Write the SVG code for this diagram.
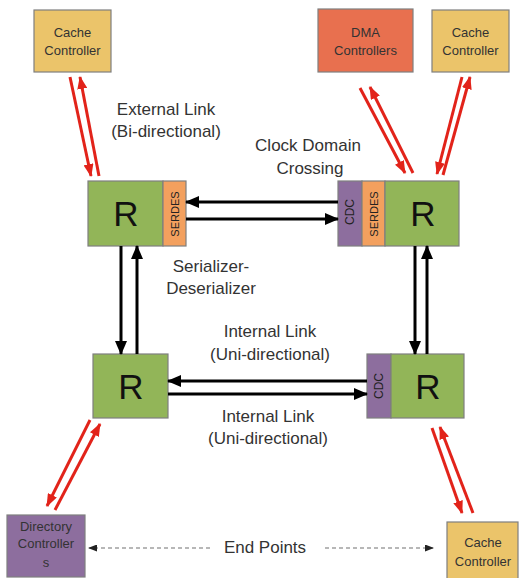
<svg xmlns="http://www.w3.org/2000/svg" width="521" height="578" viewBox="0 0 521 578">
<style>
.box{stroke:#7f7f7f;stroke-width:1.2}
.cache{fill:#EBC46A}
.dma{fill:#E8704F}
.dir{fill:#8D6E9E}
.rt{fill:#92B558}
.ser{fill:#F3A05E}
.cdc{fill:#8D6E9E}
.t{font-family:"Liberation Sans",Arial,sans-serif;fill:#333;text-anchor:middle}
.small{font-size:13px}
.lbl{font-size:17px}
.R{font-size:35px;fill:#111}
.vt{font-size:11px;fill:#222}
.blk{stroke:#000;stroke-width:3;fill:none;marker-end:url(#ah)}
.red{stroke:#E2231A;stroke-width:3;fill:none;marker-end:url(#rh)}
.dash{stroke:#a0a0a0;stroke-width:1.5;stroke-dasharray:4 3;fill:none;marker-end:url(#dh)}
</style>
<defs>
<marker id="ah" markerUnits="userSpaceOnUse" markerWidth="14" markerHeight="12" refX="13" refY="6" orient="auto"><path d="M0,0 L14,6 L0,12 z" fill="#000"/></marker>
<marker id="rh" markerUnits="userSpaceOnUse" markerWidth="13" markerHeight="10" refX="12" refY="5" orient="auto"><path d="M0,0 L13,5 L0,10 z" fill="#E2231A"/></marker>
<marker id="dh" markerUnits="userSpaceOnUse" markerWidth="9" markerHeight="7" refX="8" refY="3.5" orient="auto"><path d="M0,0 L9,3.5 L0,7 z" fill="#222"/></marker>
</defs>

<g id="cache-tl"><rect class="box cache" x="34" y="10" width="77" height="62"/><text class="t small" x="72.5" y="37">Cache</text><text class="t small" x="72.5" y="55">Controller</text></g>
<g id="dma"><rect class="box dma" x="318" y="9" width="95" height="63"/><text class="t small" x="365.5" y="37">DMA</text><text class="t small" x="365.5" y="55">Controllers</text></g>
<g id="cache-tr"><rect class="box cache" x="432" y="10" width="77" height="62"/><text class="t small" x="470.5" y="37">Cache</text><text class="t small" x="470.5" y="55">Controller</text></g>

<g id="router-tl"><rect class="box rt" x="88" y="181" width="75" height="65"/><rect class="box ser" x="163" y="181" width="23" height="65"/><text class="t R" x="126" y="226">R</text><text class="t vt" transform="translate(178.5,214) rotate(-90)">SERDES</text></g>
<g id="router-tr"><rect class="box cdc" x="338" y="181" width="24" height="65"/><rect class="box ser" x="362" y="181" width="23" height="65"/><rect class="box rt" x="385" y="181" width="74" height="65"/><text class="t vt" style="font-size:12px" transform="translate(354,212) rotate(-90)">CDC</text><text class="t vt" transform="translate(377.5,214) rotate(-90)">SERDES</text><text class="t R" x="423" y="226">R</text></g>
<g id="router-bl"><rect class="box rt" x="93" y="354" width="75" height="64"/><text class="t R" x="131" y="399">R</text></g>
<g id="router-br"><rect class="box cdc" x="367" y="354" width="24" height="64"/><rect class="box rt" x="391" y="354" width="73" height="64"/><text class="t vt" style="font-size:12px" transform="translate(383,386) rotate(-90)">CDC</text><text class="t R" x="428" y="399">R</text></g>

<g id="dir"><rect class="box dir" x="7" y="515" width="78" height="62"/><text class="t small" x="46" y="531">Directory</text><text class="t small" x="46" y="548">Controller</text><text class="t small" x="46" y="567">s</text></g>
<g id="cache-br"><rect class="box cache" x="447" y="522" width="71" height="58"/><text class="t small" x="483" y="547">Cache</text><text class="t small" x="483" y="566">Controller</text></g>

<g id="connectors">
<path class="blk" d="M338,202 L186,202"/>
<path class="blk" d="M186,219 L338,219"/>
<path class="blk" d="M121,246 L121,354"/>
<path class="blk" d="M137,354 L137,246"/>
<path class="blk" d="M415,246 L415,354"/>
<path class="blk" d="M427,354 L427,246"/>
<path class="blk" d="M367,381 L168,381"/>
<path class="blk" d="M168,394 L367,394"/>

<path class="red" d="M70,77 L91,176"/>
<path class="red" d="M99,176 L80,77"/>
<path class="red" d="M360,88 L405,173"/>
<path class="red" d="M413,173 L370,87"/>
<path class="red" d="M462,77 L437,174"/>
<path class="red" d="M443,175 L470,77"/>
<path class="red" d="M90,420 L47,506"/>
<path class="red" d="M55,510 L100,424"/>
<path class="red" d="M432,428 L462,513"/>
<path class="red" d="M473,513 L440,427"/>

<path class="dash" d="M210,548 L89,548"/>
<path class="dash" d="M325,548 L433,548"/>
</g>

<g id="labels">
<text class="t lbl" x="166" y="115">External Link</text>
<text class="t lbl" x="166" y="137">(Bi-directional)</text>
<text class="t lbl" x="308" y="151">Clock Domain</text>
<text class="t lbl" x="310" y="174">Crossing</text>
<text class="t lbl" x="211" y="272">Serializer-</text>
<text class="t lbl" x="211" y="294">Deserializer</text>
<text class="t lbl" x="270" y="337">Internal Link</text>
<text class="t lbl" x="270" y="360">(Uni-directional)</text>
<text class="t lbl" x="268" y="422">Internal Link</text>
<text class="t lbl" x="268" y="444">(Uni-directional)</text>
<text class="t lbl" x="265" y="553">End Points</text>
</g>
</svg>
